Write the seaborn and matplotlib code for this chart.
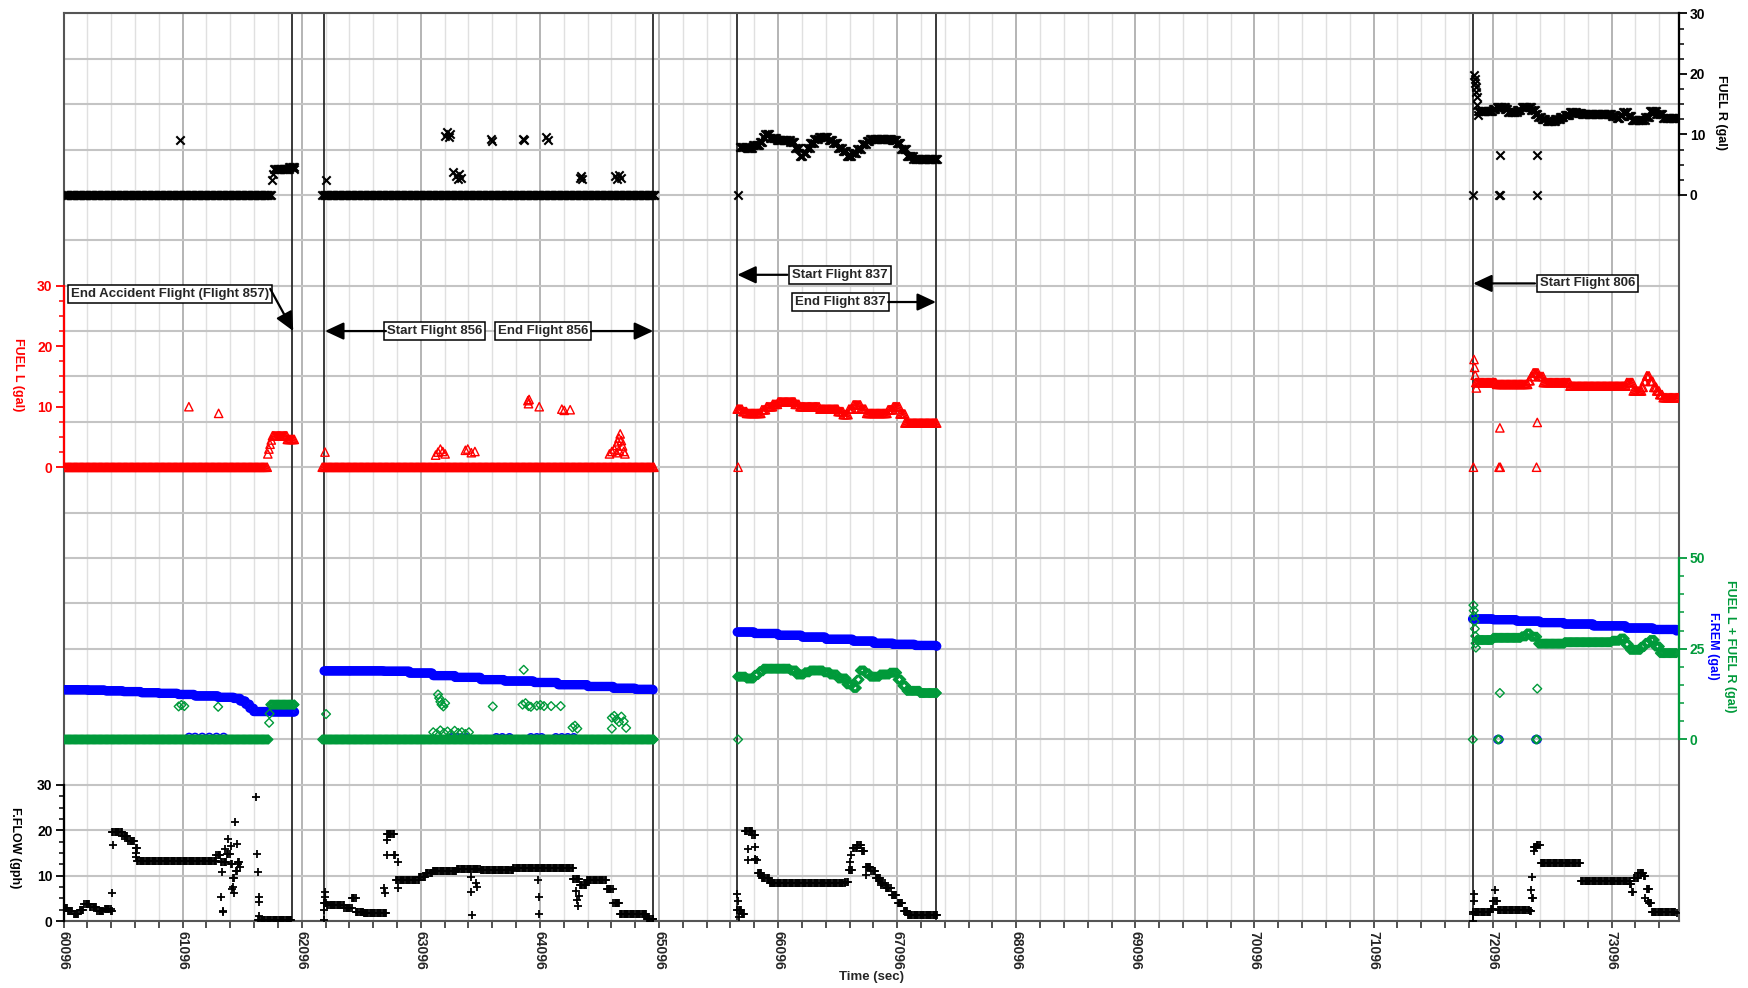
import numpy as np
import pandas as pd
import matplotlib
matplotlib.use("Agg")
import matplotlib.pyplot as plt
import seaborn as sns
from matplotlib.ticker import FixedLocator, NullFormatter

# ---------------------------------------------------------------------------
# Recorder readings.  Each run is a list of (time s, value) knots; a value is
# held until the next knot, the last knot closes the run.  Spots are single
# isolated samples.
# ---------------------------------------------------------------------------
FUEL_R_RUNS = [
    [(60096, 0), (61845, 2.5), (61855, 3.5), (61865, 4.3), (61990, 4.6), (62035, 4.3)],
    [(62270, 0), (65051, 0)],
    [(65775, 7.9), (65831, 7.7), (65887, 8.2), (65940, 8.8), (65970, 9.6), (65990, 10.0),
     (66030, 9.4), (66084, 9.0), (66200, 8.8), (66240, 7.8), (66280, 6.4), (66310, 7.0),
     (66340, 7.8), (66364, 8.5), (66400, 9.2), (66440, 9.6), (66520, 9.0), (66560, 8.5),
     (66600, 7.8), (66640, 7.2), (66672, 6.5), (66720, 7.0), (66760, 7.6), (66800, 8.4),
     (66840, 8.9), (66868, 9.2), (67050, 9.0), (67092, 8.6), (67130, 7.6), (67176, 6.4),
     (67232, 5.9), (67430, 5.9)],
    [(71975, 13.9), (72100, 14.2), (72129, 14.6), (72200, 14.2), (72227, 13.7), (72300, 14.0),
     (72339, 14.5), (72420, 14.0), (72451, 13.4), (72480, 12.9), (72510, 12.5), (72549, 12.3),
     (72620, 12.5), (72661, 12.8), (72700, 13.2), (72745, 13.7), (72800, 13.5), (72843, 13.3),
     (73100, 13.0), (73137, 12.7), (73165, 13.2), (73193, 13.7), (73230, 13.0), (73263, 12.4),
     (73380, 12.8), (73417, 13.9), (73470, 13.3), (73529, 12.7), (73658, 12.7)],
]
FUEL_R_SPOTS = [
    (61074, 9.0), (62297, 2.5), (63300, 9.8), (63315, 10.4), (63330, 9.6), (63345, 10.0),
    (63370, 3.8), (63390, 3.2), (63405, 2.6), (63420, 3.5), (63435, 2.8), (63682, 9.3),
    (63692, 8.9), (63950, 9.3), (63962, 9.0), (64150, 9.5), (64160, 9.1), (64430, 2.8),
    (64440, 3.2), (64450, 2.6), (64730, 3.1), (64745, 2.7), (64760, 3.3), (64775, 2.8),
    (65760, 0), (71935, 0), (71940, 19.9), (71945, 19.2), (71950, 18.5), (71955, 17.8),
    (71958, 17.0), (71962, 16.2), (71966, 14.8), (71970, 13.2), (72150, 0), (72160, 0),
    (72157, 6.6), (72470, 6.6), (72465, 0),
]

FUEL_L_RUNS = [
    [(60096, 0), (61811, 2.2), (61820, 3.0), (61830, 3.8), (61840, 4.5), (61850, 5.2),
     (61975, 4.6), (62033, 4.6)],
    [(62268, 0), (65053, 0)],
    [(65753, 9.6), (65800, 9.2), (65831, 8.9), (65960, 9.5), (65999, 10.0), (66050, 10.4),
     (66097, 10.8), (66240, 10.4), (66280, 10.0), (66448, 9.6), (66600, 9.2), (66643, 8.7),
     (66690, 9.6), (66727, 10.3), (66790, 9.6), (66840, 8.9), (67020, 9.5), (67063, 10.0),
     (67120, 8.8), (67161, 7.3), (67428, 7.3)],
    [(71962, 14.0), (72130, 13.7), (72400, 14.3), (72420, 15.0), (72437, 15.6), (72480, 15.0),
     (72522, 14.0), (72746, 13.4), (73222, 14.0), (73277, 12.6), (73350, 13.2), (73370, 14.2),
     (73390, 15.1), (73420, 14.2), (73450, 13.2), (73474, 12.6), (73500, 12.0), (73529, 11.5),
     (73655, 11.5)],
]
FUEL_L_SPOTS = [
    (61148, 10.0), (61398, 8.9), (62291, 2.5), (63220, 2.0), (63240, 2.5), (63260, 3.0),
    (63280, 2.6), (63300, 2.2), (63470, 2.8), (63490, 3.0), (63520, 2.4), (63550, 2.6),
    (63995, 11.0), (64000, 10.5), (64005, 11.2), (64090, 10.0), (64280, 9.6), (64300, 9.4),
    (64350, 9.5), (64680, 2.2), (64700, 2.6), (64720, 3.0), (64740, 3.6), (64740, 2.4),
    (64750, 4.2), (64760, 4.8), (64760, 2.8), (64770, 5.5), (64780, 4.4), (64790, 3.5),
    (64800, 2.6), (64810, 2.2), (65760, 0), (71935, 0), (71940, 17.8), (71945, 16.5),
    (71950, 15.2), (71955, 14.0), (71960, 13.1), (72150, 0), (72160, 0), (72157, 6.5),
    (72465, 0), (72471, 7.4),
]

F_REM_RUNS = [
    [(60096, 13.7), (60300, 13.6), (60450, 13.4), (60600, 13.2), (60750, 12.9), (60900, 12.7),
     (61060, 12.4), (61200, 12.0), (61394, 11.6), (61527, 11.3), (61580, 10.6), (61626, 9.7),
     (61660, 8.6), (61693, 7.7), (61850, 7.6), (62035, 7.6)],
    [(62284, 18.9), (62500, 18.9), (62789, 18.8), (63000, 18.3), (63200, 17.6), (63385, 17.1),
     (63600, 16.5), (63800, 16.1), (64050, 15.7), (64250, 15.1), (64500, 14.6), (64714, 14.1),
     (64900, 13.8), (65046, 13.7)],
    [(65753, 29.6), (65900, 29.2), (66100, 28.7), (66300, 28.2), (66500, 27.6), (66727, 27.1),
     (66900, 26.5), (67061, 26.2), (67250, 25.9), (67428, 25.7)],
    [(71928, 33.2), (72101, 33.0), (72300, 32.6), (72500, 32.2), (72700, 31.8), (72941, 31.3),
     (73221, 30.7), (73450, 30.3), (73641, 29.9)],
]
F_REM_SPOTS = [
    (61150, 0.6), (61200, 0.6), (61260, 0.6), (61320, 0.6), (61380, 0.6), (61440, 0.6),
    (63360, 0.5), (63400, 0.5), (63440, 0.5), (63480, 0.5), (63730, 0.5), (63780, 0.5),
    (63840, 0.5), (64020, 0.5), (64070, 0.5), (64110, 0.5), (64230, 0.5), (64280, 0.5),
    (64330, 0.5), (64380, 0.5), (72140, 0), (72150, 0), (72460, 0), (72470, 0),
]

TOTAL_RUNS = [
    [(60096, 0), (61822, 4.6), (61826, 7.1), (61832, 9.6), (62035, 9.6)],
    [(62268, 0), (65051, 0)],
    [(65753, 17.3), (65831, 16.8), (65900, 17.8), (65940, 18.8), (65971, 19.5), (66200, 19.0),
     (66251, 17.9), (66320, 18.5), (66363, 19.0), (66480, 18.5), (66531, 17.9), (66600, 16.8),
     (66671, 15.2), (66727, 14.2), (66760, 16.5), (66783, 19.0), (66830, 18.2), (66867, 17.3),
     (66950, 17.9), (67035, 18.4), (67100, 16.5), (67140, 14.8), (67175, 13.4), (67287, 12.8),
     (67428, 12.8)],
    [(71962, 27.4), (72101, 28.0), (72340, 28.4), (72381, 29.2), (72420, 28.3), (72479, 26.4),
     (72700, 26.8), (73100, 27.2), (73165, 27.8), (73210, 26.2), (73249, 24.7), (73340, 25.5),
     (73380, 26.6), (73417, 27.4), (73460, 25.6), (73501, 23.8), (73641, 23.8)],
]
TOTAL_SPOTS = [
    (61062, 9.1), (61085, 9.5), (61110, 9.2), (61394, 9.0), (62300, 7.0), (63240, 12.4),
    (63250, 11.4), (63260, 10.4), (63270, 9.6), (63285, 9.1), (63300, 10.0), (63200, 2.0),
    (63230, 1.6), (63260, 2.5), (63290, 1.8), (63320, 2.2), (63350, 1.5), (63380, 2.4),
    (63410, 1.8), (63440, 2.0), (63470, 1.5), (63500, 2.0), (63700, 9.1), (63960, 19.2),
    (63950, 9.6), (63975, 10.0), (64000, 9.2), (64020, 9.0), (64070, 9.3), (64100, 9.5),
    (64130, 9.2), (64190, 9.2), (64270, 9.2), (64370, 3.3), (64390, 3.8), (64410, 3.0),
    (64700, 6.0), (64720, 6.5), (64740, 5.5), (64760, 4.8), (64780, 6.3), (64800, 5.0),
    (64820, 3.2), (64700, 3.0), (65760, 0), (71930, 0), (71935, 37.0), (71938, 35.5),
    (71941, 34.0), (71944, 32.5), (71947, 30.5), (71950, 28.5), (71953, 26.5), (71956, 25.3),
    (72157, 12.8), (72471, 14.0), (72140, 0), (72150, 0), (72460, 0), (72470, 0),
]

F_FLOW_RUNS = [
    [(60096, 2.8), (60130, 2.2), (60180, 1.5), (60230, 2.5), (60270, 3.8), (60320, 3.0),
     (60380, 2.2), (60440, 2.6), (60494, 2.2), (60505, 19.6), (60590, 18.8), (60640, 17.6),
     (60700, 16.0), (60715, 13.2), (61380, 14.5), (61420, 13.0), (61470, 14.8), (61500, 12.5),
     (61520, 9.5), (61540, 11.0), (61560, 13.0), (61574, 12.0)],
    [(61731, 0.2), (62005, 0.2)],
    [(62280, 3.9), (62309, 3.5), (62454, 2.8), (62518, 5.0), (62551, 2.0), (62615, 1.7),
     (62808, 19.2), (62872, 14.5), (62888, 9.0), (63081, 9.6), (63140, 10.5), (63194, 11.0),
     (63400, 11.4), (63600, 11.2), (63872, 11.7), (64376, 9.3), (64433, 7.9), (64489, 9.0),
     (64656, 7.0), (64713, 3.9), (64769, 1.6), (64993, 0.4), (65049, 0.4)],
    [(65755, 2.5), (65790, 1.5), (65818, 19.8), (65880, 19.0), (65905, 13.5), (65925, 10.6),
     (65960, 9.5), (66024, 8.3), (66661, 8.5), (66690, 11.2), (66727, 16.0), (66760, 16.8),
     (66800, 15.5), (66830, 11.8), (66880, 11.0), (66914, 9.5), (66960, 8.3), (67000, 7.2),
     (67050, 5.8), (67100, 4.0), (67150, 2.2), (67184, 1.3), (67430, 1.3)],
    [(71935, 2.0), (72080, 2.6), (72101, 4.3), (72140, 2.4), (72409, 2.2), (72425, 5.0),
     (72440, 16.3), (72470, 16.8), (72500, 12.8), (72838, 8.8), (73249, 8.2), (73265, 6.4),
     (73285, 9.5), (73320, 10.6), (73370, 10.0), (73389, 7.0), (73410, 4.0), (73431, 2.0),
     (73641, 1.8)],
]
F_FLOW_SPOTS = [
    (60505, 6.2), (60510, 16.7), (60700, 14.0), (60705, 15.0), (61419, 5.3), (61425, 10.8),
    (61432, 2.3), (61438, 2.0), (61450, 15.8), (61480, 18.0), (61499, 16.5), (61510, 7.0),
    (61521, 7.5), (61530, 6.2), (61538, 21.8), (61554, 17.0), (61560, 12.5), (61709, 27.4),
    (61722, 14.7), (61728, 10.7), (61735, 5.3), (61738, 4.2), (61740, 1.0), (62280, 0.2),
    (62282, 2.4), (62290, 6.4), (62295, 5.3), (62790, 7.2), (62795, 6.1), (62810, 17.8),
    (62815, 14.5), (62900, 13.0), (62905, 7.2), (63515, 6.4), (63520, 9.7), (63525, 1.3),
    (63560, 8.3), (63570, 7.5), (64080, 9.0), (64085, 5.3), (64090, 1.6), (64395, 6.6),
    (64405, 4.6), (64415, 3.3), (64425, 5.6), (65755, 6.0), (65760, 4.5), (65765, 0.8),
    (65840, 15.9), (65845, 13.4), (65900, 16.3), (65905, 13.7), (66700, 13.0), (66710, 14.5),
    (66830, 10.2), (66960, 8.0), (71930, 0), (71932, 1.5), (71938, 4.5), (71940, 6.0),
    (72120, 6.8), (72415, 6.8), (72425, 9.7), (72445, 15.5), (73380, 5.0), (73400, 4.5),
]

# flight boundaries (s)
FLIGHT_LINES = [62011, 62284, 65047, 65753, 67422, 71933]

# annotation boxes: text, box centre (t, row), arrow tail (t, row), arrow tip (t, row)
NOTES = [
    ("End Accident Flight (Flight 857)", (60986, 13.81), (61831, 13.93), (62025, 13.0)),
    ("Start Flight 856", (63211, 13.0), (62803, 13.0), (62291, 13.0)),
    ("End Flight 856", (64123, 13.0), (64526, 13.0), (65047, 13.0)),
    ("Start Flight 837", (66615, 14.24), (66174, 14.24), (65753, 14.24)),
    ("End Flight 837", (66619, 13.64), (67021, 13.64), (67422, 13.64)),
    ("Start Flight 806", (72896, 14.05), (72452, 14.05), (71933, 14.05)),
]

T_MIN, T_MAX = 60096, 73658
X_MAJOR = [60096 + 1000 * k for k in range(14)]
X_MINOR = [60096 + 200 * k for k in range(68) if k % 5]

RED, GREEN, BLUE = "#ff0000", "#009a3a", "#0000ff"
STEP = 10


def expand(runs, spots):
    ts, vs = [], []
    for run in runs:
        for (t0, v0), (t1, _) in zip(run[:-1], run[1:]):
            t = np.arange(t0, t1, STEP)
            ts.append(t)
            vs.append(np.full(t.size, float(v0)))
        ts.append(np.array([run[-1][0]]))
        vs.append(np.array([float(run[-1][1])]))
    ts.append(np.array([p[0] for p in spots]))
    vs.append(np.array([float(p[1]) for p in spots]))
    return pd.DataFrame({"time": np.concatenate(ts), "value": np.concatenate(vs)})


def draw(axis, frame, marker, color, size, lw, hollow):
    kws = dict(marker=marker, s=size, linewidth=lw, legend=False, ax=axis)
    if hollow:
        kws.update(facecolor="none", edgecolor=color)
    else:
        kws.update(color=color)
    sns.scatterplot(data=frame, x="time", y="value", **kws)
    axis.set_xlabel("")
    axis.set_ylabel("")


sns.set_style("white")
plt.rcParams["font.family"] = ["Liberation Sans", "DejaVu Sans"]
plt.rcParams["font.weight"] = "bold"
plt.rcParams["axes.labelweight"] = "bold"

fig = plt.figure(figsize=(17.49, 9.88), dpi=100)
ax = fig.add_axes([0.03636, 0.06781, 0.92339, 0.91862])

# background grid: 20 equal rows shared by all the tracks
ax.set_ylim(0, 20)
ax.set_yticks(np.arange(21))
ax.tick_params(axis="y", length=0, labelleft=False, labelright=False)
ax.grid(axis="y", color="#c4c4c4", lw=1.5)
ax.set_xticks(X_MAJOR)
ax.set_xticklabels([str(t) for t in X_MAJOR], rotation=-90, fontsize=10, fontweight="bold")
ax.xaxis.set_minor_locator(FixedLocator(X_MINOR))
ax.grid(axis="x", which="major", color="#b4b4b4", lw=1.4)
ax.grid(axis="x", which="minor", color="#e0e0e0", lw=1.0)
ax.tick_params(axis="x", which="both", direction="out", length=5, width=1.2,
               color="#333333", pad=2, bottom=True)
for s in ax.spines.values():
    s.set_color("#555555")
    s.set_linewidth(1.5)
ax.set_axisbelow(True)

for t in FLIGHT_LINES:
    ax.axvline(t, color="#2a2a2a", lw=1.3, zorder=2)

for text, centre, tail, tip in NOTES:
    ax.text(*centre, text, ha="center", va="center", fontsize=9.5, fontweight="bold",
            zorder=5, bbox=dict(boxstyle="square,pad=0.22", fc="white", ec="black", lw=1.1))
    ax.annotate("", xy=tip, xytext=tail, zorder=5,
                arrowprops=dict(arrowstyle="-|>,head_length=0.6,head_width=0.28",
                                color="black", lw=1.6, mutation_scale=19,
                                shrinkA=0, shrinkB=0))


def track(ylim, side, bounds, major, minor, color):
    t_ax = ax.twinx()
    t_ax.set_ylim(*ylim)
    for s in t_ax.spines.values():
        s.set_visible(False)
    sp = t_ax.spines[side]
    sp.set_visible(True)
    sp.set_bounds(*bounds)
    sp.set_color(color)
    sp.set_linewidth(1.6)
    if side == "left":
        t_ax.yaxis.tick_left()
    else:
        t_ax.yaxis.tick_right()
    t_ax.yaxis.set_major_locator(FixedLocator(major))
    t_ax.yaxis.set_minor_locator(FixedLocator(minor))
    t_ax.yaxis.set_minor_formatter(NullFormatter())
    t_ax.set_yticklabels([f"{v:g}" for v in major], fontsize=10, fontweight="bold", color=color)
    t_ax.tick_params(axis="y", which="major", direction="out", length=6, width=1.3,
                     color=color, pad=2)
    t_ax.tick_params(axis="y", which="minor", direction="out", length=3.5, width=1.1,
                     color=color)
    return t_ax


ax_r = track((-120, 30), "right", (0, 30), [0, 10, 20, 30], np.arange(0, 30.1, 2.5), "black")
ax_l = track((-75, 75), "left", (0, 30), [0, 10, 20, 30], np.arange(0, 30.1, 2.5), RED)
ax_g = track((-50, 200), "right", (0, 50), [0, 25, 50], np.arange(0, 50.1, 5), GREEN)
ax_f = track((0, 200), "left", (0, 30), [0, 10, 20, 30], np.arange(0, 30.1, 2.5), "black")

draw(ax_r, expand(FUEL_R_RUNS, FUEL_R_SPOTS), "x", "black", 36, 1.5, False)
draw(ax_l, expand(FUEL_L_RUNS, FUEL_L_SPOTS), "^", RED, 36, 1.0, True)
draw(ax_g, expand(F_REM_RUNS, F_REM_SPOTS), "o", BLUE, 30, 1.2, True)
draw(ax_g, expand(TOTAL_RUNS, TOTAL_SPOTS), "D", GREEN, 20, 1.0, True)
draw(ax_f, expand(F_FLOW_RUNS, F_FLOW_SPOTS), "+", "black", 36, 1.3, False)

ax_r.set_ylim(-120, 30)
ax_l.set_ylim(-75, 75)
ax_g.set_ylim(-50, 200)
ax_f.set_ylim(0, 200)
ax.set_xlim(T_MIN, T_MAX)

# axis titles
label_kw = dict(transform=ax.transAxes, rotation=270, ha="center", va="center",
                fontsize=9, fontweight="bold")
ax.text(1.0263, 0.891, "FUEL R (gal)", color="black", **label_kw)
ax.text(-0.0285, 0.602, "FUEL L (gal)", color=RED, **label_kw)
ax.text(1.0318, 0.303, "FUEL L + FUEL R (gal)", color=GREEN, **label_kw)
ax.text(1.0213, 0.303, "F.REM (gal)", color=BLUE, **label_kw)
ax.text(-0.0299, 0.081, "F.FLOW (gph)", color="black", **label_kw)
ax.text(0.5, -0.062, "Time (sec)", transform=ax.transAxes, ha="center", va="center",
        fontsize=9.5, fontweight="bold")

fig.savefig("out.png", dpi=100)
